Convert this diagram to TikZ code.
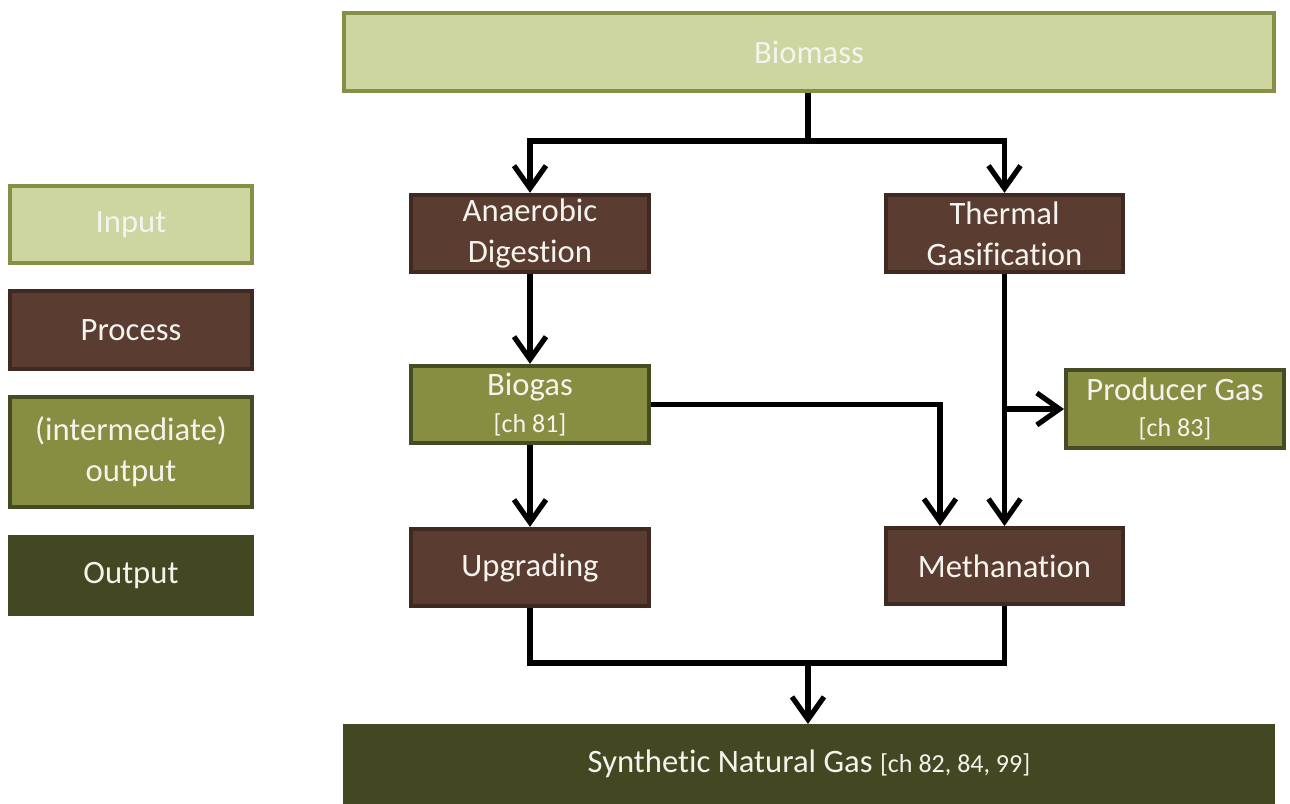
\documentclass[tikz,border=0pt]{standalone}
\usepackage{fontspec}
\setmainfont[Ligatures=NoCommon]{Carlito}
\usetikzlibrary{arrows.meta}
\definecolor{inFill}{HTML}{CDD5A0}
\definecolor{inLine}{HTML}{878E45}
\definecolor{prFill}{HTML}{5A3C31}
\definecolor{prLine}{HTML}{3F2920}
\definecolor{imFill}{HTML}{878D41}
\definecolor{imLine}{HTML}{454B23}
\definecolor{outFill}{HTML}{434822}
\definecolor{txt}{HTML}{F4F4EE}
\tikzset{
  box/.style={rectangle, line width=3pt, text=txt, align=center, inner sep=0pt,
    font=\fontsize{24.5}{30.5}\selectfont},
  inbox/.style={box, fill=inFill, draw=inLine},
  prbox/.style={box, fill=prFill, draw=prLine},
  imbox/.style={box, fill=imFill, draw=imLine},
  outbox/.style={box, fill=outFill, draw=outFill},
  conn/.style={line width=3.9pt, line join=miter, black},
  arr/.style={conn, -{Straight Barb[length=17pt, width=24pt]}},
}
\newcommand{\chref}[1]{{\fontsize{19.5}{22}\selectfont #1}}
\begin{document}
\begin{tikzpicture}[x=0.75pt, y=-0.75pt]
\useasboundingbox (0,0) rectangle (1290,804);
% legend
\node[inbox, minimum width=181.5pt, minimum height=58pt] (lin) at (131,224.5) {Input};
\node[prbox, minimum width=181.5pt, minimum height=58.5pt] (lpr) at (131,330) {Process};
\node[imbox, minimum width=181.5pt, minimum height=82.5pt] (lim) at (131,452) {(intermediate)\\output};
\node[outbox, minimum width=181.5pt, minimum height=58pt] (lout) at (131,575.5) {Output};
% main boxes
\node[inbox, minimum width=697.5pt, minimum height=58.5pt] (bio) at (809,52) {Biomass};
\node[prbox, minimum width=178.5pt, minimum height=58pt] (ad) at (530,233.5) {Anaerobic\\[0.5pt]Digestion};
\node[prbox, minimum width=177.5pt, minimum height=58pt] (tg) at (1004.5,233.5) {Thermal\\[0.5pt]Gasification};
\node[imbox, minimum width=178.5pt, minimum height=58pt] (bg) at (530,404.5) {Biogas\\[-3pt]\chref{[ch 81]}};
\node[imbox, minimum width=163.5pt, minimum height=58.5pt] (pg) at (1175,409) {Producer Gas\\[-3pt]\chref{[ch 83]}};
\node[prbox, minimum width=178.5pt, minimum height=58pt] (up) at (530,567.5) {Upgrading};
\node[prbox, minimum width=177.5pt, minimum height=57pt] (me) at (1004.5,566) {Methanation};
\node[outbox, minimum width=698pt, minimum height=60pt, line width=0pt] (sng) at (809,764) {Synthetic Natural Gas \chref{[ch 82, 84, 99]}};
% connectors
\coordinate (j1) at (808,141);
\coordinate (j2) at (808,663);
\draw[conn] (bio.south -| j1) -- (j1);
\draw[arr] (j1) -| (ad.north);
\draw[arr] (j1) -| (tg.north);
\draw[arr] (ad.south) -- (bg.north);
\draw[arr] (bg.south) -- (up.north);
\draw[arr] (bg.east) -| ([xshift=-48.4pt]me.north);
\draw[arr] (tg.south) -- (me.north);
\draw[arr] (tg.south |- pg.west) -- (pg.west);
\draw[conn] (up.south) -- (up.south |- j2) -- (me.south |- j2) -- (me.south);
\draw[arr] (j2) -- (j2 |- sng.north);
\end{tikzpicture}
\end{document}
